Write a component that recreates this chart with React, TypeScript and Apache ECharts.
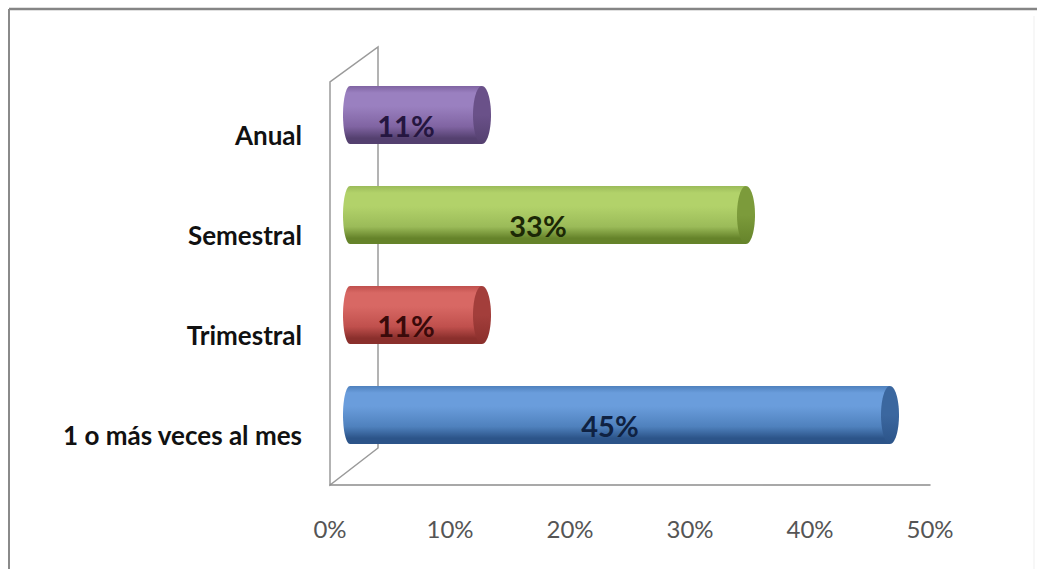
import React, { useEffect, useRef } from "react";
import * as echarts from "echarts";

const categories = ["1 o más veces al mes", "Trimestral", "Semestral", "Anual"];
const values = [45, 11, 33, 11];
const xTicks = [0, 10, 20, 30, 40, 50];

// [light, base, dark, cap, label]
const palettes = [
  ["#6a9ddc", "#4f81bd", "#2c5489", "#3b679f", "#0f2242"],
  ["#d86864", "#c0504d", "#8a2f2c", "#a33e3b", "#3a0a0a"],
  ["#b2d26a", "#9bbb59", "#65832a", "#7c9b3b", "#1c2806"],
  ["#9a80c0", "#8064a2", "#54406f", "#6a5189", "#251640"],
];

export default function App() {
  const ref = useRef<HTMLDivElement>(null);
  useEffect(() => {
    if (!ref.current) return;
    const chart = echarts.init(ref.current, null, { renderer: "svg" });
    const font = "Lato, 'Open Sans', sans-serif";
    const wallColor = "#9a9a9a";
    const option: any = {
      animation: false,
      backgroundColor: "#ffffff",
      grid: [
        { left: 330, top: 85, width: 600, height: 400 },
        { left: 350, top: 65, width: 600, height: 400 },
      ],
      xAxis: [
        {
          type: "value",
          gridIndex: 0,
          min: 0,
          max: 50,
          interval: 10,
          axisLine: { show: true, lineStyle: { color: "#8c8c8c", width: 1.5 } },
          axisTick: { show: false },
          splitLine: { show: false },
          axisLabel: {
            formatter: (v: number) => v + "%",
            color: "#555555",
            fontSize: 24,
            fontFamily: font,
            margin: 31,
          },
          data: xTicks,
        },
        {
          type: "value",
          gridIndex: 1,
          min: 0,
          max: 50,
          show: false,
        },
      ],
      yAxis: [
        {
          type: "category",
          gridIndex: 0,
          data: categories,
          axisLine: { show: false },
          axisTick: { show: false },
          axisLabel: {
            color: "#111111",
            fontSize: 26,
            fontWeight: "bold",
            fontFamily: font,
            margin: 28,
          },
        },
        {
          type: "category",
          gridIndex: 1,
          data: categories,
          show: false,
        },
      ],
      graphic: [
        {
          type: "line",
          shape: { x1: 9, y1: 9, x2: 1037, y2: 9 },
          style: { stroke: "#858585", lineWidth: 2.5 },
          silent: true,
        },
        {
          type: "line",
          shape: { x1: 9, y1: 9, x2: 9, y2: 569 },
          style: { stroke: "#8a8a8a", lineWidth: 2 },
          silent: true,
        },
        {
          type: "line",
          shape: { x1: 1034, y1: 16, x2: 1034, y2: 569 },
          style: { stroke: "#efefef", lineWidth: 1 },
          silent: true,
        },
        {
          type: "polygon",
          shape: {
            points: [
              [378, 448],
              [330, 485],
              [330, 82],
              [378, 47],
            ],
          },
          style: { fill: "none", stroke: wallColor, lineWidth: 1.5 },
          silent: true,
        },
      ],
      series: [
        {
          type: "custom",
          xAxisIndex: 1,
          yAxisIndex: 1,
          clip: false,
          z: 5,
          encode: { x: 0, y: 1 },
          data: values.map((v, i) => [v, i]),
          renderItem: (params: any, api: any) => {
            const v = api.value(0);
            const idx = api.value(1);
            const p0 = api.coord([0, idx]);
            const p1 = api.coord([v, idx]);
            const band = api.size([0, 1])[1];
            const h = band * 0.58;
            const cy = p0[1];
            const pal = palettes[params.dataIndex];
            const grad = new echarts.graphic.LinearGradient(0, 0, 0, 1, [
              { offset: 0, color: pal[1] },
              { offset: 0.12, color: pal[0] },
              { offset: 0.35, color: pal[0] },
              { offset: 0.7, color: pal[1] },
              { offset: 0.9, color: pal[2] },
              { offset: 1, color: pal[2] },
            ]);
            const capGrad = new echarts.graphic.LinearGradient(0, 0, 0, 1, [
              { offset: 0, color: pal[3] },
              { offset: 0.5, color: pal[3] },
              { offset: 1, color: pal[2] },
            ]);
            return {
              type: "group",
              children: [
                {
                  type: "ellipse",
                  shape: { cx: p0[0], cy, rx: 7, ry: h / 2 },
                  style: { fill: grad },
                },
                {
                  type: "rect",
                  shape: { x: p0[0], y: cy - h / 2, width: p1[0] - p0[0], height: h },
                  style: { fill: grad },
                },
                {
                  type: "ellipse",
                  shape: { cx: p1[0], cy, rx: 9, ry: h / 2 },
                  style: { fill: capGrad },
                },
                {
                  type: "text",
                  style: {
                    text: v + "%",
                    x: (p0[0] + p1[0]) / 2 - 10,
                    y: cy + 10,
                    align: "center",
                    verticalAlign: "middle",
                    textAlign: "center",
                    textVerticalAlign: "middle",
                    fill: pal[4],
                    fontSize: 29,
                    fontWeight: "bold",
                    fontFamily: font,
                  },
                },
              ],
            };
          },
        },
      ],
    };
    chart.setOption(option);
    return () => chart.dispose();
  }, []);
  return (
    <div
      ref={ref}
      style={{ position: "fixed", left: 0, top: 0, width: 1037, height: 569, background: "#fff" }}
    />
  );
}
